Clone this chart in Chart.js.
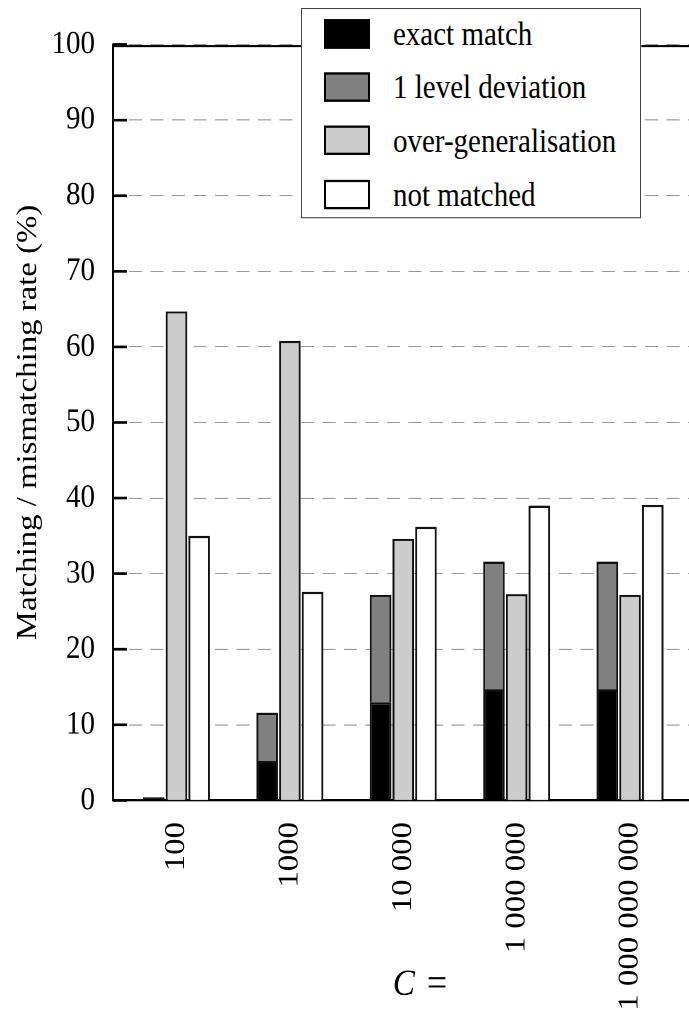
<!DOCTYPE html>
<html>
<head>
<meta charset="utf-8">
<script src="https://cdn.jsdelivr.net/npm/chart.js@4.4.1/dist/chart.umd.min.js"></script>
<style>
  html, body { margin: 0; padding: 0; background: #fff; }
  #outer { position: relative; width: 689px; height: 1018px; overflow: hidden; }
  #wrap {
    position: absolute;
    left: 0;
    top: 0;
    width: 689px;
    height: 900px;
    transform: scaleY(1.1311);
    transform-origin: 0 0;
  }
  #legend {
    position: absolute;
    left: 301px;
    top: 7px;
    width: 340px;
    height: 186px;
    box-sizing: border-box;
    border: 1px solid #444;
    background: #fff;
    font-family: "Liberation Serif", "Times New Roman", serif;
    font-size: 29px;
    color: #000;
  }
  .swatch {
    position: absolute;
    left: 22px;
    width: 46px;
    height: 26px;
    box-sizing: border-box;
    border: 2px solid #000;
  }
  .entry {
    position: absolute;
    left: 91px;
    height: 26px;
    line-height: 26px;
    white-space: nowrap;
  }
</style>
</head>
<body>
<div id="outer">
  <div id="wrap">
    <canvas id="myChart" width="689" height="900"></canvas>
    <div id="legend"></div>
  </div>
</div>
<script>
  // values in %, one entry per C setting
  const categories = ['100', '1000', '10 000', '1 000 000', '1 000 000 000'];
  const exactMatch = [0.4, 5.2, 13.0, 14.7, 14.7];
  const levelDeviation = [0, 6.4, 14.2, 16.9, 16.9];
  const overGeneralisation = [64.7, 60.8, 34.6, 27.3, 27.2];
  const notMatched = [35.0, 27.6, 36.2, 39.0, 39.1];
  const yTicks = [0, 10, 20, 30, 40, 50, 60, 70, 80, 90, 100];

  const series = [
    { label: 'exact match', values: exactMatch, color: '#000000', stack: 'a' },
    { label: '1 level deviation', values: levelDeviation, color: '#808080', stack: 'a' },
    { label: 'over-generalisation', values: overGeneralisation, color: '#cccccc', stack: 'b' },
    { label: 'not matched', values: notMatched, color: '#ffffff', stack: 'c' }
  ];

  const serif = '"Liberation Serif", "Times New Roman", serif';
  Chart.defaults.font.family = serif;
  Chart.defaults.font.size = 29;
  Chart.defaults.color = '#000';

  // legend box drawn over the plot
  const legend = document.getElementById('legend');
  series.forEach((s, i) => {
    const top = 9 + i * 47.2;
    const sw = document.createElement('div');
    sw.className = 'swatch';
    sw.style.top = top + 'px';
    sw.style.background = s.color;
    legend.appendChild(sw);
    const txt = document.createElement('div');
    txt.className = 'entry';
    txt.style.top = top + 'px';
    txt.textContent = s.label;
    legend.appendChild(txt);
  });

  // inward ticks on the y axis, black top line and the "C =" axis label
  const frame = {
    id: 'frame',
    afterDraw(chart) {
      const { ctx, chartArea } = chart;
      const y = chart.scales.y;
      ctx.save();
      ctx.strokeStyle = '#000';
      ctx.lineWidth = 2.4;
      yTicks.forEach(v => {
        const py = y.getPixelForValue(v);
        ctx.beginPath();
        ctx.moveTo(chartArea.left, py);
        ctx.lineTo(chartArea.left + 14, py);
        ctx.stroke();
      });
      ctx.lineWidth = 1.7;
      ctx.beginPath();
      ctx.moveTo(chartArea.left, chartArea.top + 1.5);
      ctx.lineTo(chartArea.right, chartArea.top + 1.5);
      ctx.stroke();

      ctx.fillStyle = '#000';
      ctx.textBaseline = 'middle';
      ctx.textAlign = 'left';
      ctx.font = 'italic 33px ' + serif;
      const wC = ctx.measureText('C').width;
      ctx.font = '36px ' + serif;
      const wEq = ctx.measureText('=').width;
      const gap = 12;
      const x = 420 - (wC + gap + wEq) / 2;
      ctx.font = 'italic 33px ' + serif;
      ctx.fillText('C', x, 871);
      ctx.font = '36px ' + serif;
      ctx.fillText('=', x + wC + gap, 871);
      ctx.restore();
    }
  };

  const datasets = series.map(s => ({
    label: s.label,
    data: s.values.map((v, i) => ({ x: i, y: v })),
    backgroundColor: s.color,
    borderColor: '#111',
    borderWidth: 2,
    stack: s.stack,
    categoryPercentage: 0.6,
    barPercentage: 0.95
  }));

  new Chart(document.getElementById('myChart'), {
    type: 'bar',
    data: { datasets },
    options: {
      responsive: false,
      animation: false,
      devicePixelRatio: 2,
      layout: { padding: { top: 39.3, right: 0, bottom: 0, left: 0 } },
      plugins: {
        legend: { display: false },
        tooltip: { enabled: false }
      },
      scales: {
        x: {
          type: 'linear',
          stacked: true,
          offset: false,
          min: -0.56,
          max: 4.52,
          afterFit: scale => { scale.height = 192.3; },
          afterBuildTicks: scale => {
            scale.ticks = categories.map((_, i) => ({ value: i }));
          },
          grid: { display: false, drawTicks: false, offset: false },
          border: { display: true, color: '#000', width: 2 },
          ticks: {
            autoSkip: false,
            minRotation: 90,
            maxRotation: 90,
            padding: 19,
            callback: v => categories[v]
          }
        },
        y: {
          stacked: true,
          min: 0,
          max: 100,
          afterFit: scale => { scale.width = 113; },
          afterBuildTicks: scale => {
            scale.ticks = yTicks.map(v => ({ value: v }));
          },
          grid: {
            drawTicks: false,
            lineWidth: 1,
            color: ctx => (ctx.tick && ctx.tick.value === 0 ? 'rgba(0,0,0,0)' : '#9a9a9a')
          },
          border: { display: true, color: '#000', width: 2, dash: [13, 8.5], dashOffset: 6.5 },
          ticks: { padding: 18 },
          title: {
            display: true,
            text: 'Matching / mismatching rate (%)',
            padding: { top: 11, bottom: 0 }
          }
        }
      }
    },
    plugins: [frame]
  });
</script>
</body>
</html>
